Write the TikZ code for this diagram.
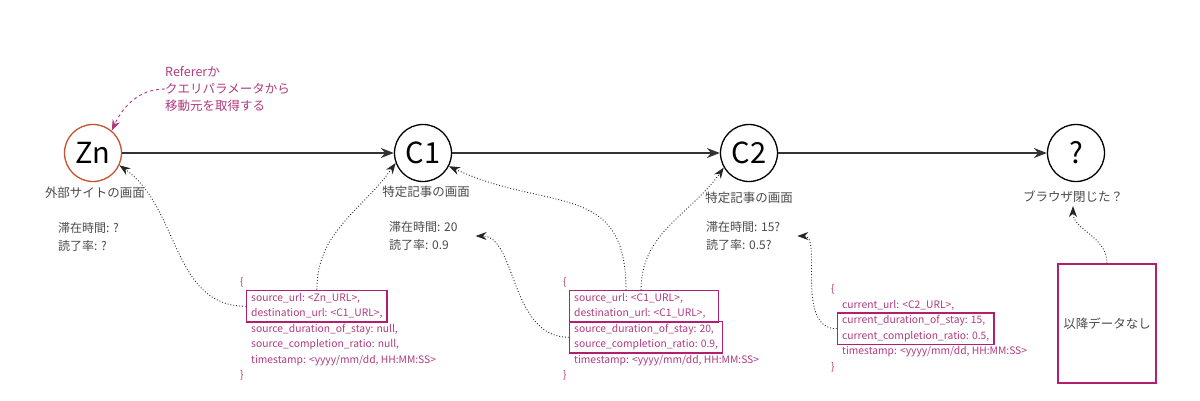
\documentclass[tikz,border=0pt]{standalone}
\usepackage{fontspec}
\setmainfont{Noto Sans CJK JP}
\usetikzlibrary{arrows.meta,fit,positioning}

\definecolor{memo}{HTML}{B03A7E}
\definecolor{frame}{HTML}{B0206E}
\definecolor{origin}{HTML}{C4522E}
\definecolor{grey}{HTML}{4A4A4A}

\tikzset{
  screen/.style={circle, draw, line width=1.3pt, minimum size=57pt, inner sep=0pt,
    font=\fontsize{29}{29}\selectfont},
  capt/.style={text=grey, font=\fontsize{12.5}{15}\selectfont, inner sep=0pt},
  stats/.style={anchor=west, align=left, text=grey, inner sep=0pt,
    font=\fontsize{12}{17.5}\selectfont},
  flow/.style={-{Stealth[length=13pt,width=10pt]}, line width=1.4pt, draw=black!80},
  link/.style={-{Stealth[length=11pt,width=8pt]}, dotted, line width=0.9pt, draw=black!85},
  json/.style={anchor=west, text=memo, inner sep=0pt, text height=7.6pt, text depth=2.4pt,
    font=\fontsize{10.3}{12}\selectfont},
  hilite/.style={draw=frame, line width=1.5pt, inner xsep=4.5pt, inner ysep=3pt},
}

\begin{document}
\begin{tikzpicture}[x=1pt,y=-1pt]
  \useasboundingbox (0,0) rectangle (1200,400);

  % Screens
  \node[screen, draw=origin] (zn) at (93,153) {Zn};
  \node[screen] (c1) at (423,153) {C1};
  \node[screen] (c2) at (749,153) {C2};
  \node[screen] (end) at (1076,153) {?};

  % Page flow
  \draw[flow] (zn) -- (c1);
  \draw[flow] (c1) -- (c2);
  \draw[flow] (c2) -- (end);

  % Captions
  \node[capt] (zncap) at (95,193) {外部サイトの画面};
  \node[capt] (c1cap) at (426,192) {特定記事の画面};
  \node[capt] (c2cap) at (749,198) {特定記事の画面};
  \node[capt] (endcap) at (1073,197) {ブラウザ閉じた？};

  % Stay time and read ratio
  \node[stats] (znst) at (58,237) {滞在時間: ?\\読了率: ?};
  \node[stats] (c1st) at (389,236) {滞在時間: 20\\読了率: 0.9};
  \node[stats] (c2st) at (706,236) {滞在時間: 15?\\読了率: 0.5?};

  % Referer note
  \node[anchor=west, align=left, text=memo, inner sep=0pt,
    font=\fontsize{12.5}{17}\selectfont] (referer) at (165,89)
    {Refererか\\クエリパラメータから\\移動元を取得する};
  \draw[memo, dashed, line width=0.9pt, -{Stealth[length=11pt,width=8pt]}]
    (referer.west) to[out=180,in=65] (zn.50);

  % Event 1
  \node[json] (j1-0) at (240,283) {\{};
  \foreach \t [count=\i] in {{source\_url: <Zn\_URL>,}, {destination\_url: <C1\_URL>,},
      {source\_duration\_of\_stay: null,}, {source\_completion\_ratio: null,},
      {timestamp: <yyyy/mm/dd, HH:MM:SS>}}
    \node[json] (j1-\i) at (251,{283+15.5*\i}) {\t};
  \node[json] (j1-6) at (240,376) {\}};
  \node[hilite, fit=(j1-1)(j1-2)] (b1) {};

  % Event 2
  \node[json] (j2-0) at (563,283) {\{};
  \foreach \t [count=\i] in {{source\_url: <C1\_URL>,}, {destination\_url: <C1\_URL>,},
      {source\_duration\_of\_stay: 20,}, {source\_completion\_ratio: 0.9,},
      {timestamp: <yyyy/mm/dd, HH:MM:SS>}}
    \node[json] (j2-\i) at (574,{283+15.5*\i}) {\t};
  \node[json] (j2-6) at (563,376) {\}};
  \node[hilite, inner ysep=2.6pt, fit=(j2-1)(j2-2)(j2-3.east |- j2-2.center)] (b2a) {};
  \node[hilite, inner ysep=2.6pt, fit=(j2-3)(j2-4)] (b2b) {};

  % Event 3
  \node[json] (j3-0) at (831,290) {\{};
  \foreach \t [count=\i] in {{current\_url: <C2\_URL>,}, {current\_duration\_of\_stay: 15,},
      {current\_completion\_ratio: 0.5,}, {timestamp: <yyyy/mm/dd, HH:MM:SS>}}
    \node[json] (j3-\i) at (842,{290+15.5*\i}) {\t};
  \node[json] (j3-5) at (831,367.5) {\}};
  \node[hilite, fit=(j3-2)(j3-3)] (b3) {};

  % No more data
  \node[draw=frame, line width=1.5pt, minimum width=98pt, minimum height=119pt,
    text=grey, font=\fontsize{12.5}{15}\selectfont] (nodata) at (1107,323.5) {以降データなし};

  % Where each value goes
  \draw[link] (b1.west) to[out=180,in=-35] (zn.-25);
  \draw[link] (b1.north) to[out=90,in=-125] (c1.-160);
  \draw[link] ([xshift=-18pt]b2a.north) to[out=90,in=-25,looseness=1.3] (c1.-27);
  \draw[link, shorten >=18pt] (b2b.west) to[out=180,in=0] (c1st.east);
  \draw[link] ([xshift=-3pt]b2a.north) to[out=90,in=-125] (c2.-150);
  \draw[link, shorten >=17pt] (b3.west) to[out=180,in=0] (c2st.east);
  \draw[link, shorten >=3pt] (nodata.north) to[out=90,in=-90] (endcap.south);

\end{tikzpicture}
\end{document}
